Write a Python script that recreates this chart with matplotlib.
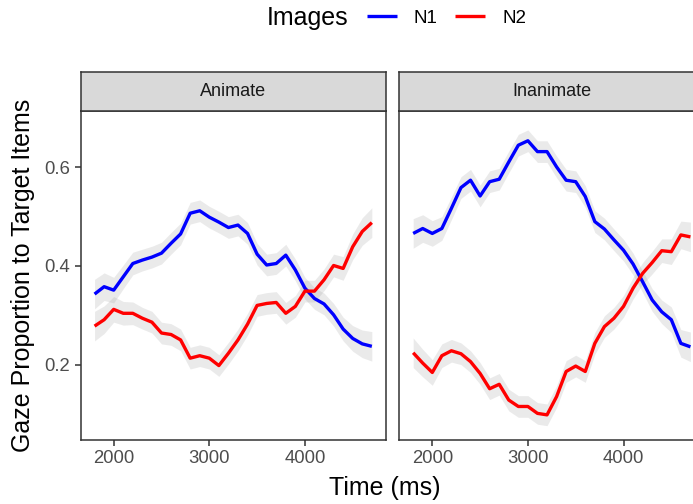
import numpy as np
import matplotlib
matplotlib.use("Agg")
import matplotlib.pyplot as plt

plt.rcParams['font.family'] = ['Liberation Sans', 'DejaVu Sans']

# time bins (ms)
time_ms = list(range(1800, 4800, 100))

# gaze proportions
animate_n1 = [0.343, 0.358, 0.351, 0.378, 0.405, 0.412, 0.418, 0.426, 0.446, 0.465,
              0.507, 0.512, 0.499, 0.489, 0.478, 0.483, 0.466, 0.424, 0.402, 0.405,
              0.422, 0.392, 0.355, 0.334, 0.323, 0.301, 0.272, 0.253, 0.242, 0.237]
animate_n2 = [0.278, 0.291, 0.312, 0.304, 0.304, 0.294, 0.286, 0.264, 0.261, 0.250,
              0.213, 0.218, 0.213, 0.198, 0.223, 0.250, 0.282, 0.320, 0.324, 0.326,
              0.304, 0.318, 0.349, 0.349, 0.372, 0.401, 0.395, 0.439, 0.470, 0.488]
inanimate_n1 = [0.466, 0.476, 0.466, 0.476, 0.517, 0.559, 0.574, 0.542, 0.571, 0.576,
                0.611, 0.645, 0.654, 0.632, 0.632, 0.601, 0.574, 0.571, 0.541, 0.490,
                0.475, 0.453, 0.432, 0.404, 0.368, 0.331, 0.307, 0.291, 0.243, 0.236]
inanimate_n2 = [0.224, 0.203, 0.184, 0.218, 0.228, 0.222, 0.206, 0.182, 0.151, 0.160,
                0.128, 0.115, 0.115, 0.101, 0.098, 0.135, 0.186, 0.197, 0.186, 0.243,
                0.277, 0.294, 0.318, 0.355, 0.385, 0.407, 0.431, 0.429, 0.463, 0.459]
# ribbon half-width, a bit wider at the ends
se = [0.030, 0.028, 0.026, 0.024, 0.023, 0.022, 0.022, 0.022, 0.022, 0.022,
      0.022, 0.022, 0.022, 0.022, 0.022, 0.022, 0.022, 0.022, 0.022, 0.022,
      0.022, 0.022, 0.022, 0.022, 0.022, 0.023, 0.024, 0.026, 0.028, 0.030]

panels = ["Animate", "Inanimate"]
series = {"Animate": (animate_n1, animate_n2), "Inanimate": (inanimate_n1, inanimate_n2)}
image_labels = ["N1", "N2"]
colors = ["#0000FF", "#FF0000"]

W, H = 693, 504
fig = plt.figure(figsize=(W / 100, H / 100), dpi=100)

border = "#333333"
lefts = [80.7, 399.3]
pw = 305.0
ptop, pbot = 110.7, 440.0
stop = 71.7

handles = []
for i, name in enumerate(panels):
    ax = fig.add_axes([lefts[i] / W, 1 - pbot / H, pw / W, (pbot - ptop) / H])
    x = np.array(time_ms)
    band = np.array(se)
    for vals, lab, col in zip(series[name], image_labels, colors):
        v = np.array(vals)
        ax.fill_between(x, v - band, v + band, color="#999999", alpha=0.2, lw=0)
        ln, = ax.plot(x, v, color=col, lw=2.4, label=lab, solid_capstyle="butt")
        if i == 0:
            handles.append(ln)
    ax.set_xlim(1655, 4845)
    ax.set_ylim(0.047, 0.715)
    ax.set_xticks([2000, 3000, 4000])
    ax.set_yticks([0.2, 0.4, 0.6])
    for s in ax.spines.values():
        s.set_color(border)
        s.set_linewidth(1.1)
    ax.tick_params(colors=border, labelcolor="#4D4D4D", labelsize=13.3, length=4, width=1.1)
    if i == 1:
        ax.tick_params(axis="y", left=False, labelleft=False)
    # facet strip
    sax = fig.add_axes([lefts[i] / W, 1 - ptop / H, pw / W, (ptop - stop) / H])
    sax.set_facecolor("#D9D9D9")
    sax.set_xticks([])
    sax.set_yticks([])
    for s in sax.spines.values():
        s.set_color(border)
        s.set_linewidth(1.1)
    sax.text(0.5, 0.5, name, ha="center", va="center", fontsize=13, color="#1A1A1A",
             transform=sax.transAxes)

fig.text(23 / W, 1 - 275 / H, "Gaze Proportion to Target Items", rotation=90,
         ha="center", va="center", fontsize=18)
fig.text(385 / W, 1 - 488 / H, "Time (ms)", ha="center", va="center", fontsize=18)

fig.text(267 / W, 1 - 18 / H, "Images", ha="left", va="center", fontsize=18)
fig.legend(handles=handles, labels=image_labels, loc="center left",
           bbox_to_anchor=(350 / W, 1 - 18 / H), ncol=2, frameon=False, fontsize=13.5,
           handlelength=1.6, handletextpad=0.9, columnspacing=0.95)

fig.savefig("out.png", dpi=100)
